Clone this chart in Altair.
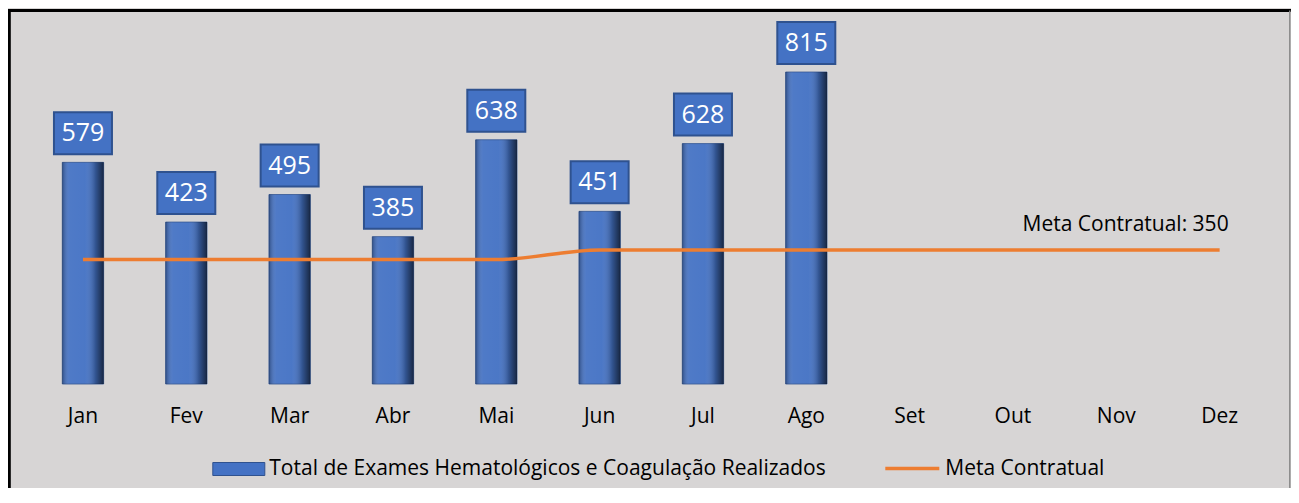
import altair as alt
import pandas as pd

# ---- data ----
months = ["Jan", "Fev", "Mar", "Abr", "Mai", "Jun", "Jul", "Ago", "Set", "Out", "Nov", "Dez"]
exames = [579, 423, 495, 385, 638, 451, 628, 815]
meta = [325, 325, 325, 325, 325, 350, 350, 350, 350, 350, 350, 350]
serie_barras = "Total de Exames Hematológicos e Coagulação Realizados"
serie_meta = "Meta Contratual"

bars_df = pd.DataFrame({"mes": months[:len(exames)], "valor": exames, "serie": serie_barras})
meta_df = pd.DataFrame({"mes": months, "valor": meta, "serie": serie_meta})
ann_df = pd.DataFrame({"mes": [months[-1]], "valor": [meta[-1]],
                       "texto": [f"{serie_meta}: {meta[-1]}"]})
frame_df = pd.DataFrame({"k": [0]})

FONT = "Open Sans"
FS = 21
BLUE = "#4472c4"
DARK_BLUE = "#2f528f"
ORANGE = "#ed7d31"

x = alt.X("mes:N", sort=months,
          scale=alt.Scale(domain=months, paddingInner=0.6, paddingOuter=0.3),
          axis=alt.Axis(title=None, labelAngle=0, ticks=False, domain=False,
                        labelFontSize=FS, labelFont=FONT, labelColor="#000000",
                        labelPadding=21, labelBaseline="top", grid=False))
y = alt.Y("valor:Q", stack=None,
          scale=alt.Scale(domain=[0, 900], nice=False, zero=True), axis=None)

bars = alt.Chart(bars_df).mark_bar(stroke=DARK_BLUE, strokeWidth=0.8).encode(
    x=x, y=y,
    fill=alt.Fill("serie:N",
                  scale=alt.Scale(domain=[serie_barras], range=[BLUE]),
                  legend=alt.Legend(title=None, orient="none", legendX=181, legendY=403,
                                    symbolType="M-1,-0.25H1V0.25H-1Z", symbolSize=2704,
                                    symbolStrokeColor=DARK_BLUE, symbolStrokeWidth=1,
                                    symbolOpacity=1,
                                    labelFont=FONT, labelFontSize=FS, labelColor="#000000",
                                    labelOffset=4, padding=0, labelLimit=800)),
)

shade = alt.Chart(bars_df).mark_bar(
    fill=alt.Gradient(
        gradient="linear", x1=0, x2=1, y1=0, y2=0,
        stops=[
            alt.GradientStop(offset=0, color="rgba(0,0,0,0.30)"),
            alt.GradientStop(offset=0.18, color="rgba(255,255,255,0.06)"),
            alt.GradientStop(offset=0.55, color="rgba(255,255,255,0.04)"),
            alt.GradientStop(offset=0.8, color="rgba(0,0,0,0.25)"),
            alt.GradientStop(offset=1, color="rgba(0,0,0,0.65)"),
        ],
    )
).encode(x=x, y=y)

boxes = alt.Chart(bars_df).mark_bar(
    fill=BLUE, stroke=DARK_BLUE, strokeWidth=2, width=58, yOffset=-50, y2Offset=-8
).encode(x=x, y=y, y2=alt.Y2("valor:Q"))

labels = alt.Chart(bars_df).mark_text(
    color="white", fontSize=25, font=FONT, dy=-29, baseline="middle"
).encode(x=x, y=y, text="valor:Q")

line = alt.Chart(meta_df).mark_line(interpolate="monotone", strokeWidth=3.5).encode(
    x=x, y=y,
    stroke=alt.Stroke("serie:N",
                      scale=alt.Scale(domain=[serie_meta], range=[ORANGE]),
                      legend=alt.Legend(title=None, orient="none", legendX=852, legendY=400,
                                        symbolType="stroke", symbolSize=2916,
                                        symbolStrokeWidth=3.5,
                                        labelFont=FONT, labelFontSize=FS,
                                        labelColor="#000000", labelOffset=4, padding=0)),
)

ann = alt.Chart(ann_df).mark_text(
    align="right", dx=9, dy=-19, fontSize=FS, font=FONT, color="#000000",
    baseline="alphabetic"
).encode(x=x, y=y, text="texto:N")

top_rule = alt.Chart(frame_df).mark_rule(color="#000000", strokeWidth=3).encode(
    x=alt.value(-24), x2=alt.value(1260), y=alt.value(-29))
left_rule = alt.Chart(frame_df).mark_rule(color="#000000", strokeWidth=3).encode(
    x=alt.value(-22), y=alt.value(-29), y2=alt.value(460))
right_rule = alt.Chart(frame_df).mark_rule(color="#8a8a8a", strokeWidth=1.5).encode(
    x=alt.value(1258.5), y=alt.value(-29), y2=alt.value(460))

chart = alt.layer(
    bars, shade, line, boxes, labels, ann, top_rule, left_rule, right_rule
).properties(
    width=1240, height=344.5,
    padding={"left": 23.3, "top": 31.5, "right": 19.7, "bottom": 104},
    autosize=alt.AutoSizeParams(type="none"),
    background="#d7d5d5",
).configure_view(stroke=None)

chart.save("out.html", embed_options={"renderer": "svg", "actions": False})
